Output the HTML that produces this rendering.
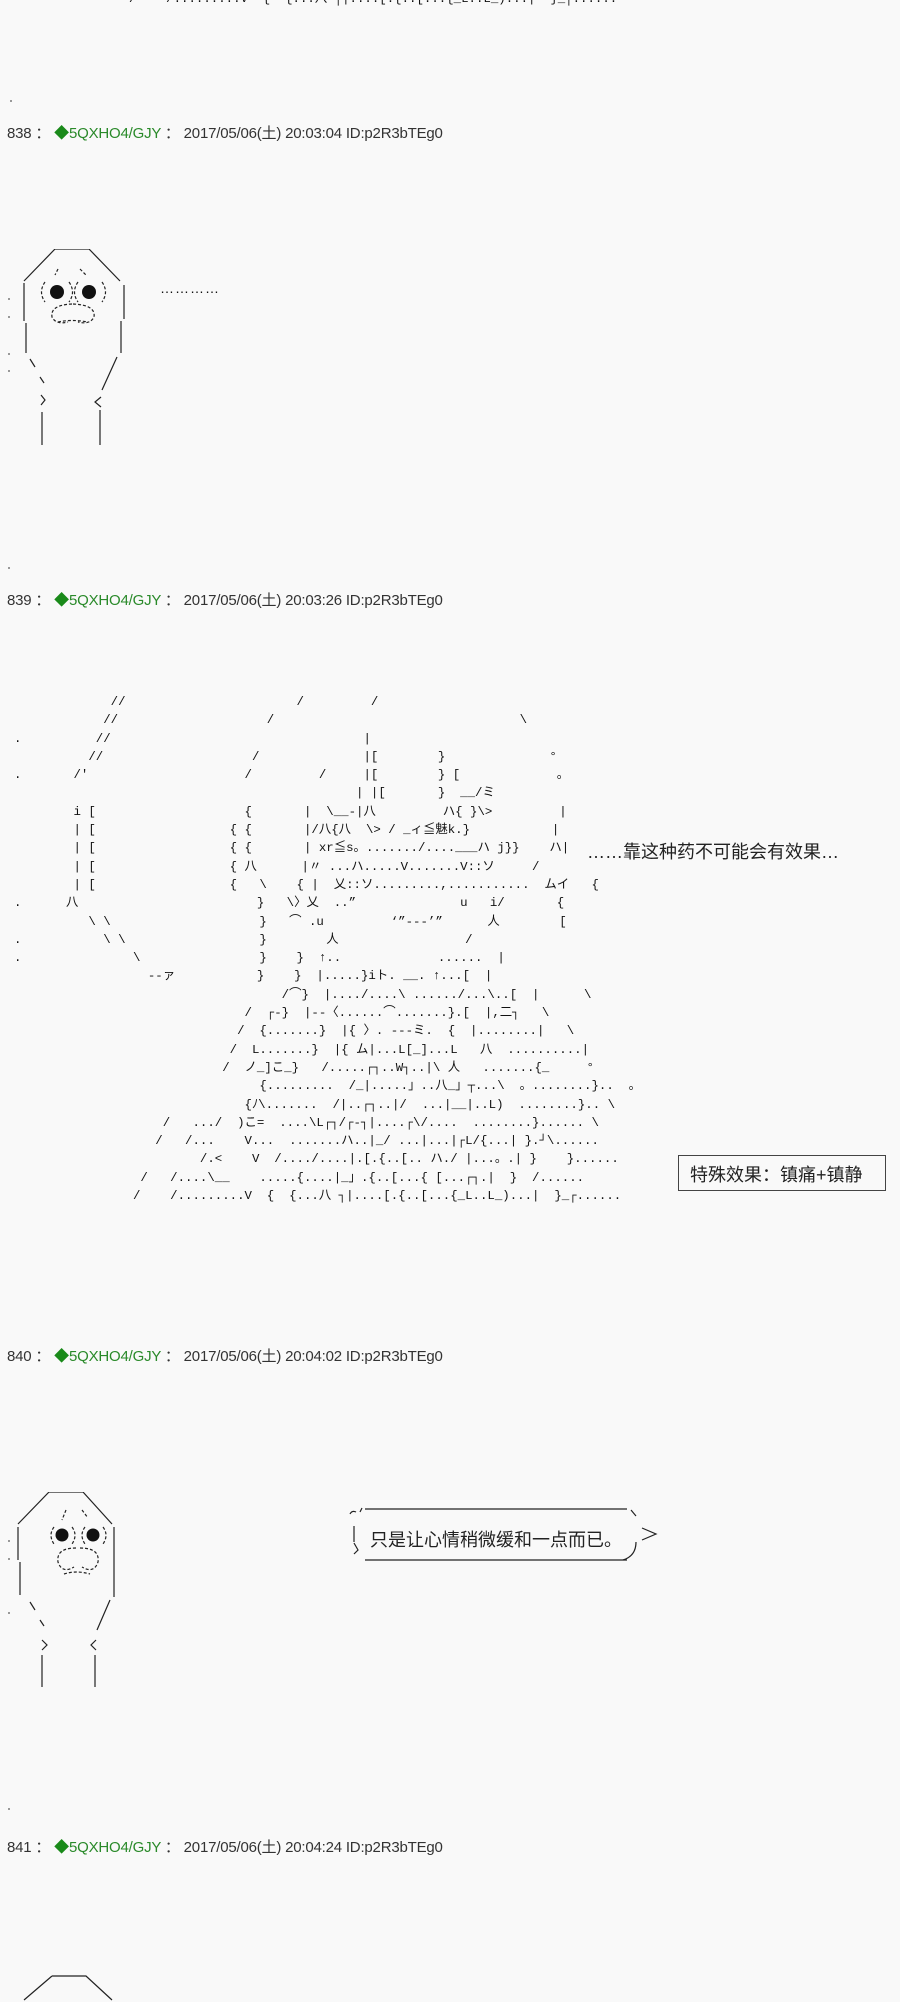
<!DOCTYPE html>
<html><head><meta charset="utf-8"><style>
html,body{margin:0;padding:0;background:#f9f9f9;}
body{width:900px;height:2000px;position:relative;overflow:hidden;font-family:"Liberation Sans","Noto Sans CJK SC",sans-serif;color:#222;}
.h{position:absolute;left:7px;font-size:15px;white-space:nowrap;color:#333;letter-spacing:-0.2px;}
.h .g{color:#2a8a2a;}
.h .d{color:#1a8a1a;}
pre{margin:0;position:absolute;font-family:"Liberation Mono","Noto Sans CJK SC",monospace;font-size:12.4px;line-height:18.3px;color:#111;}
.t{position:absolute;font-size:18px;white-space:nowrap;color:#222;font-family:"Liberation Sans","Noto Sans CJK SC",sans-serif;}
.dot{position:absolute;width:2px;height:2px;background:#999;}
</style></head><body>

<pre style="left:10px;top:-10px;">                /    /.........V  {  {...八 ┐|....[.{..[...{_L..L_)...|  }_┌......</pre>
<div class="dot" style="left:10px;top:100px"></div>

<div class="h" style="top:122px">838 ： <span class="d">◆</span><span class="g">5QXHO4/GJY</span> ： 2017/05/06(土) 20:03:04 ID:p2R3bTEg0</div>

<svg style="position:absolute;left:0;top:249px" width="140" height="205" viewBox="0 0 140 205" fill="none" stroke="#222" stroke-width="1.2">
<path d="M55 0 H89 L120 32 M55 0 L24 32"/>
<path d="M24 34 V72 M26 74 V104 M30 110 L35 118 M40 128 L44 134 M41 146 L45 151 L41 156"/>
<path d="M124 36 V70 M121 72 V104 M117 108 L102 141 M101 148 L95 153 L101 158"/>
<path d="M42 163 V196 M100 161 V196"/>
<circle cx="57" cy="43" r="7" fill="#111" stroke="none"/>
<circle cx="89" cy="43" r="7" fill="#111" stroke="none"/>
<path d="M45 33 Q38 43 45 53 M69 33 Q76 43 69 53 M78 33 Q71 43 78 53 M102 33 Q109 43 102 53" stroke-dasharray="3 2"/>
<path d="M72 55 Q50 56 52 68 Q56 76 68 73 M73 55 Q96 56 94 68 Q90 76 78 73 M58 73 Q72 70 88 73" stroke-dasharray="3 2"/>
<path d="M58 20 L55 26 M80 20 L86 26" stroke-dasharray="3 2"/>
</svg>
<div class="t" style="left:160px;top:280px;font-size:14px;letter-spacing:1px;color:#111">…………</div>
<div class="dot" style="left:8px;top:298px"></div><div class="dot" style="left:8px;top:316px"></div>
<div class="dot" style="left:8px;top:353px"></div><div class="dot" style="left:8px;top:370px"></div>
<div class="dot" style="left:8px;top:567px"></div>

<div class="h" style="top:589px">839 ： <span class="d">◆</span><span class="g">5QXHO4/GJY</span> ： 2017/05/06(土) 20:03:26 ID:p2R3bTEg0</div>

<pre style="left:14px;top:693px;">             //                       /         /
            //                    /                                 \
.          //                                  |
          //                    /              |[        }              °
.       /'                     /         /     |[        } [             。
                                              | |[       }  __/ミ
        i [                    {       |  \__-|八         ハ{ }\>         |
        | [                  { {       |/八{八  \> / _ィ≦魅k.}           |
        | [                  { {       | xr≦s。......./....___ハ j}}    ハ|
        | [                  { 八      |〃 ...ハ.....V.......V::ソ     /
        | [                  {   \    { |  乂::ソ.........,...........  ムイ   {
.      八                        }   \〉乂  ..”              u   i/       {
          \ \                    }   ⌒ .u         ‘”‐‐‐’”      人        [
.           \ \                  }        人                 /
.               \                }    }  ↑..             ......  |
                  ‐‐ァ           }    }  |.....}iト. __. ↑...[  |
                                    /⌒}  |..../....\ ....../...\..[  |      \
                               /  ┌‐}  |‐‐〈......⌒.......}.[  |,二┐   \
                              /  {.......}  |{ 〉. ‐‐‐ミ.  {  |........|   \
                             /  L.......}  |{ ム|...L[_]...L   八  ..........|
                            /  ノ_]こ_}   /.....┌┐..W┐..|\ 人   .......{_     °
                                 {.........  /_|.....」..八_」┬...\  。........}..  。
                               {ﾉ\.......  /|..┌┐..|/  ...|__|..L)  ........}.. \
                    /   .../  )こ=  ....\L┌┐/┌‐┐|....┌\/....  ........}...... \
                   /   /...    V...  .......ハ..|_/ ...|...|┌L/{...| }.┘\......
                         /.<    V  /..../....|.[.{..[.. ハ./ |...。.| }    }......
                 /   /....\__    .....{....|_」.{..[...{ [...┌┐.|  }  /......
                /    /.........V  {  {...八 ┐|....[.{..[...{_L..L_)...|  }_┌......</pre>

<div class="t" style="left:587px;top:838px;">……靠这种药不可能会有效果…</div>
<div style="position:absolute;left:678px;top:1155px;width:206px;height:34px;border:1px solid #444;"></div>
<div class="t" style="left:690px;top:1161px;">特殊效果：镇痛+镇静</div>

<div class="h" style="top:1345px">840 ： <span class="d">◆</span><span class="g">5QXHO4/GJY</span> ： 2017/05/06(土) 20:04:02 ID:p2R3bTEg0</div>

<svg style="position:absolute;left:0;top:1492px" width="140" height="200" viewBox="0 0 140 200" fill="none" stroke="#222" stroke-width="1.2">
<path d="M49 0 H83 L112 32 M49 0 L18 32"/>
<path d="M18 35 V68 M20 70 V103 M30 110 L35 118 M40 128 L44 134 M42 148 L47 153 L42 158"/>
<path d="M114 35 V105 M110 108 L97 138 M96 148 L91 153 L96 158"/>
<path d="M42 163 V195 M95 163 V195"/>
<circle cx="62" cy="43" r="6.5" fill="#111" stroke="none"/>
<circle cx="93" cy="43" r="6.5" fill="#111" stroke="none"/>
<path d="M54 35 Q48 43 54 52 M72 35 Q78 43 72 52 M85 35 Q79 43 85 52 M103 35 Q109 43 103 52" stroke-dasharray="3 2"/>
<path d="M76 56 Q56 56 58 70 Q62 82 74 75 M80 56 Q100 56 98 70 Q94 82 82 75 M64 82 Q76 78 90 82" stroke-dasharray="3 2"/>
<path d="M66 18 L62 28 M82 18 L88 26" stroke-dasharray="3 2"/>
</svg>
<div class="dot" style="left:8px;top:1540px"></div><div class="dot" style="left:8px;top:1558px"></div><div class="dot" style="left:8px;top:1612px"></div>

<svg style="position:absolute;left:340px;top:1500px" width="330" height="70" viewBox="0 0 330 70" fill="none" stroke="#222" stroke-width="1.2">
<path d="M25 9 H287 M25 60 H287"/>
<path d="M14 26 V42 M14 43 L18 50 L14 54"/>
<path d="M10 14 Q12 10 16 12 M22 8 L20 12 M291 10 L296 16 M296 42 Q296 56 283 60"/>
<path d="M302 28 L316 34 L302 40"/>
</svg>
<div class="t" style="left:370px;top:1526px;">只是让心情稍微缓和一点而已。</div>

<div class="dot" style="left:8px;top:1808px"></div>
<div class="h" style="top:1836px">841 ： <span class="d">◆</span><span class="g">5QXHO4/GJY</span> ： 2017/05/06(土) 20:04:24 ID:p2R3bTEg0</div>

<svg style="position:absolute;left:0;top:1972px" width="140" height="30" viewBox="0 0 140 30" fill="none" stroke="#222" stroke-width="1.2">
<path d="M52 4 H86 L112 28 M52 4 L24 28"/>
</svg>
</body></html>
